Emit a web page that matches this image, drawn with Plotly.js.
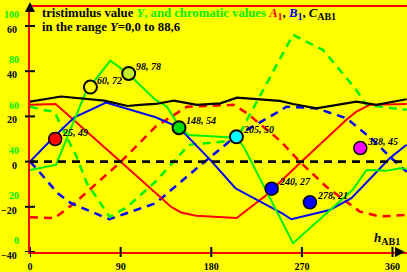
<!DOCTYPE html>
<html><head><meta charset="utf-8">
<script src="https://cdn.plot.ly/plotly-3.0.1.min.js"></script>
<style>html,body{margin:0;padding:0;background:#ffff00;}#chart{width:407px;height:272px;}</style>
</head><body><div id="chart"></div>
<script>
// ---- data ----
const xTickVals = [0, 90, 180, 270, 360];
const yTickVals = [-40, -20, 0, 20, 40, 60];
const yGreenTickVals = [0, 20, 40, 60, 80, 100];

// A1 (red solid) and -A1 (red dashed)
const hueA1 = [0, 25.5, 89.8, 124.8, 140, 150, 165, 205.3, 235.1, 267.9, 314.2, 324.1, 337.3, 374];
const valA1 = [25.1, 25.5, 0, -14, -20, -22.5, -24, -25, -14.7, -0.7, 18.5, 22.1, 25.1, 25.5];
const hueA1n = [0, 24.2, 44.1, 90.4, 124.8, 155.9, 202.3, 215.5, 249, 267.8, 294.3, 327.4, 347.3, 374];
const valA1n = [-24.6, -25, -18.4, 0, 15.5, 24.3, 25.1, 21.4, 9, 0, -11.1, -22.1, -24.3, -23.6];

// B1 (blue solid) and -B1 (blue dashed)
const hueB1 = [0, 24.2, 44.1, 75.5, 124.8, 147.7, 179, 204, 250, 259.6, 297.6, 319.2, 357.2, 374];
const valB1 = [0, 11.1, 19.6, 26.1, 19.6, 15.2, 0.75, -11.8, -22.8, -25.5, -21.4, -16.2, 1.5, 7.4];
const hueB1n = [0, 7.6, 27.5, 40.7, 78.8, 124.8, 165.8, 204, 250, 254.6, 284.4, 314.2, 340.6, 357.2, 374];
const valB1n = [0, -3.7, -14, -18.4, -25.5, -18.4, -2.9, 11.1, 22.9, 24.3, 23.6, 19.2, 9.6, 2.2, -4.5];

// Y (green solid) and mirrored Y (green dashed)
const hueY = [0, 25.8, 55.6, 79.8, 97, 124.8, 136, 148.7, 157.6, 205, 212.2, 261.2, 320.5, 334.3, 354, 367, 374];
const valY = [-3.7, -1.5, 31, 44.7, 39.1, 27.3, 24.3, 15.2, 11.8, 10.6, 6.6, -36.1, -12.5, -3.7, -4.1, -2.9, -3.2];
const hueYn = [0, 12.6, 24.5, 29.5, 46.4, 56.3, 79.2, 97, 124.8, 157.6, 205, 215.5, 261.2, 291, 324.1, 334, 374];
const valYn = [24.3, 22.9, 22, 17.1, 2.1, -9.4, -24.5, -19.9, -8.8, 7.4, 9.4, 18.5, 56.1, 49.4, 31.7, 25.1, 22.9];

// C_AB1 (black solid)
const hueC = [0, 30.8, 73.9, 97, 108.9, 124.8, 142.7, 165.8, 189, 205.6, 248, 261.2, 284.4, 324.1, 344, 374];
const valC = [26.5, 28.8, 27, 24.6, 25.1, 25.5, 27, 25.1, 25.8, 28.3, 26.9, 25.5, 23.6, 26.5, 25.1, 27.6];

// sample colours: hue and second value
const ptHue = [25, 60, 98, 148, 205, 240, 278, 328];
const ptVal = [49, 72, 78, 54, 50, 27, 21, 45];
const ptColor = ['#ff0000', '#ffff00', '#c4f020', '#00dd00', '#00ffff', '#0000ff', '#0000ff', '#ff00ff'];
const ptLineW = [1.5, 2, 2, 2, 2, 1.5, 1.5, 1.5];

// ---- chart ----
const FONT = 'Liberation Serif, Times New Roman, serif';
const GREEN = '#00f000';
function line(x, y, color, dash, w) {
  return {x: x, y: y, type: 'scatter', mode: 'lines', hoverinfo: 'skip',
          line: {color: color, width: w, dash: dash}};
}
const traces = [
  line(hueA1n, valA1n, '#ff0000', '8px,6px', 2.5),
  line(hueB1n, valB1n, '#0000ff', '8px,6px', 2.5),
  line(hueYn, valYn, GREEN, '8px,6px', 2.5),
  line(hueA1, valA1, '#ff0000', 'solid', 2),
  line(hueB1, valB1, '#0000ff', 'solid', 2),
  line(hueY, valY, GREEN, 'solid', 2),
  line(hueC, valC, '#000000', 'solid', 2.2),
  {x: [], y: [], yaxis: 'y2', type: 'scatter', mode: 'lines', hoverinfo: 'skip'},
  {x: ptHue, y: ptVal, yaxis: 'y3', type: 'scatter', mode: 'markers', hoverinfo: 'skip',
   marker: {size: 13, color: ptColor, line: {color: '#000000', width: ptLineW}}}
];

const shapes = [];
// zero line
shapes.push({type: 'line', xref: 'paper', x0: 0, x1: 1, yref: 'y', y0: 0, y1: 0,
             line: {color: '#000000', width: 2.8, dash: '8px,6px'}});
// top red border
shapes.push({type: 'line', xref: 'paper', x0: 0, x1: 1, yref: 'paper', y0: 1, y1: 1,
             line: {color: '#ff0000', width: 2}});
// crossing tick marks
yTickVals.forEach(v => shapes.push({type: 'line', xref: 'paper', x0: -5/377, x1: 5/377,
  yref: 'y', y0: v, y1: v, line: {color: '#000000', width: 2}}));
xTickVals.forEach(v => shapes.push({type: 'line', xref: 'x', x0: v, x1: v,
  yref: 'paper', y0: -5/246, y1: 5/246, line: {color: '#000000', width: 2}}));

const SUB = '<sub><span style="font-size:10px">';
const TFS = 12.7;
const annotations = [
  {xref: 'paper', yref: 'paper', x: 10/377, y: (252-14.5)/246, xanchor: 'left', yanchor: 'middle',
   showarrow: false, align: 'left', font: {family: FONT, size: TFS, color: '#000000', weight: 'bold'},
   text: 'tristimulus value <span style="color:' + GREEN + '"><i>Y</i>, and chromatic values </span>' +
         '<span style="color:#ff0000"><i>A</i>' + SUB + '1</span></sub></span>, ' +
         '<span style="color:#0000ff"><i>B</i>' + SUB + '1</span></sub></span>, <i>C</i>' + SUB + 'AB1</span></sub>'},
  {xref: 'paper', yref: 'paper', x: 10/377, y: (252-26.5)/246, xanchor: 'left', yanchor: 'middle',
   showarrow: false, align: 'left', font: {family: FONT, size: TFS, color: '#000000', weight: 'bold'},
   text: 'in the range <i>Y</i>=0,0 to 88,6'},
  {xref: 'paper', yref: 'paper', x: (387-30)/377, y: (252-238)/246, xanchor: 'center', yanchor: 'middle',
   showarrow: false, font: {family: FONT, size: 13, color: '#000000', weight: 'bold'},
   text: '<i>h</i>' + SUB + 'AB1</span></sub>'},
  // axis arrows
  {xref: 'paper', yref: 'paper', x: 0, y: (252-2)/246, ax: 0, ay: 9, text: '', showarrow: true,
   arrowhead: 2, arrowsize: 1, arrowwidth: 2, arrowcolor: '#000000'},
  {xref: 'paper', yref: 'paper', x: (405-30)/377, y: 0, ax: -9, ay: 0, text: '', showarrow: true,
   arrowhead: 2, arrowsize: 1, arrowwidth: 2, arrowcolor: '#000000'}
];
// black y tick labels (sit slightly below their ticks, as in the reference)
yTickVals.forEach(v => annotations.push({
  xref: 'paper', yref: 'y', x: -11/377, y: v, xanchor: 'right', yanchor: 'middle', yshift: -3.5,
  showarrow: false, font: {family: FONT, size: 10, color: '#000000', weight: 'bold'},
  text: (v < 0 ? '\u2212' : '') + Math.abs(v)}));
ptHue.forEach((h, i) => annotations.push({
  xref: 'x', yref: 'y3', x: h, y: ptVal[i], xanchor: 'left', yanchor: 'middle',
  xshift: 5, yshift: 7, showarrow: false,
  font: {family: FONT, size: 10, color: '#000000', weight: 'bold', style: 'italic'},
  text: h + ', ' + ptVal[i]}));

const layout = {
  width: 407, height: 272,
  margin: {l: 30, r: 0, t: 6, b: 20, pad: 0},
  paper_bgcolor: '#ffff00', plot_bgcolor: '#ffff00',
  showlegend: false,
  xaxis: {range: [0, 374.4], tickvals: xTickVals, ticks: '', showgrid: false, zeroline: false,
          showline: true, linecolor: '#ff0000', linewidth: 2, ticklabelstandoff: 4,
          tickfont: {family: FONT, size: 10, color: '#000000', weight: 'bold'}},
  yaxis: {range: [-40, 68.85], showticklabels: false, ticks: '', showgrid: false, zeroline: false,
          showline: true, linecolor: '#ff0000', linewidth: 2},
  yaxis2: {overlaying: 'y', side: 'left', range: [-5, 103.85], tickvals: yGreenTickVals, ticks: '',
           showgrid: false, zeroline: false, showline: false, ticklabelstandoff: 10,
           tickfont: {family: FONT, size: 10, color: GREEN, weight: 'bold'}},
  yaxis3: {overlaying: 'y', range: [-1, 107.85], visible: false},
  shapes: shapes,
  annotations: annotations
};
Plotly.newPlot('chart', traces, layout, {staticPlot: true, displayModeBar: false});
</script></body></html>
